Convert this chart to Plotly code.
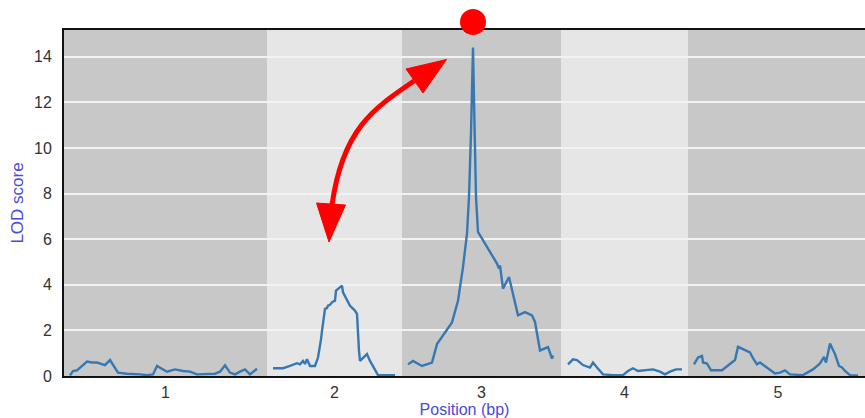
import plotly.graph_objects as go

# ---- data ----
chrom_names = ["1", "2", "3", "4", "5"]
chrom_lengths = [203, 135, 159, 127, 180]

chr1_pos = [6, 9, 13, 23, 28, 33, 41, 46, 54, 63, 76, 83, 89, 93, 103, 111, 119, 126, 133, 143, 151, 156, 161, 166, 171, 176, 181, 186, 193]
chr1_lod = [0.03, 0.22, 0.25, 0.63, 0.59, 0.59, 0.48, 0.70, 0.15, 0.10, 0.07, 0.04, 0.07, 0.44, 0.19, 0.29, 0.22, 0.19, 0.07, 0.07, 0.10, 0.19, 0.47, 0.15, 0.07, 0.19, 0.29, 0.07, 0.32]

chr2_pos = [6, 16, 23, 30, 33, 36, 38, 40, 43, 48, 51, 53, 54, 55, 56, 57, 58, 60, 61, 63, 65, 67, 68, 69, 71, 73, 75, 76, 78, 80, 82, 83, 86, 88, 90, 91, 92, 93, 96, 100, 103, 108, 111, 120, 128]
chr2_lod = [0.34, 0.34, 0.44, 0.56, 0.51, 0.66, 0.53, 0.73, 0.44, 0.44, 0.81, 1.25, 1.60, 1.98, 2.40, 2.72, 2.94, 2.98, 3.08, 3.12, 3.23, 3.28, 3.30, 3.74, 3.82, 3.89, 3.96, 3.67, 3.50, 3.30, 3.20, 3.08, 2.95, 2.86, 2.72, 1.69, 1.10, 0.66, 0.81, 0.96, 0.66, 0.29, 0.04, 0.04, 0.04]

chr3_pos = [6, 11, 20, 30, 35, 41, 50, 56, 61, 65, 67, 69, 71, 72, 74, 76, 85, 95, 97, 98, 101, 107, 116, 123, 130, 133, 138, 143, 146, 150, 151]
chr3_lod = [0.51, 0.66, 0.44, 0.59, 1.40, 1.76, 2.35, 3.30, 4.77, 6.24, 7.85, 10.65, 14.40, 12.11, 7.85, 6.32, 5.65, 4.93, 4.71, 4.85, 3.83, 4.34, 2.66, 2.80, 2.66, 2.37, 1.12, 1.20, 1.27, 0.76, 0.90]

chr4_pos = [7, 12, 16, 22, 29, 32, 36, 42, 52, 62, 67, 72, 77, 86, 92, 99, 104, 109, 115, 121]
chr4_lod = [0.51, 0.73, 0.70, 0.48, 0.37, 0.59, 0.37, 0.07, 0.04, 0.04, 0.22, 0.34, 0.22, 0.25, 0.29, 0.19, 0.07, 0.19, 0.29, 0.29]

chr5_pos = [6, 10, 14, 15, 19, 23, 34, 42, 47, 50, 62, 65, 69, 72, 82, 87, 92, 97, 102, 115, 125, 132, 136, 138, 142, 147, 151, 154, 157, 162, 170]
chr5_lod = [0.51, 0.81, 0.88, 0.59, 0.55, 0.25, 0.25, 0.51, 0.70, 1.28, 1.03, 0.78, 0.51, 0.59, 0.29, 0.11, 0.15, 0.25, 0.07, 0.04, 0.29, 0.55, 0.84, 0.59, 1.42, 0.96, 0.44, 0.37, 0.22, 0.04, 0.02]

y_ticks = [0, 2, 4, 6, 8, 10, 12, 14]

all_pos = [chr1_pos, chr2_pos, chr3_pos, chr4_pos, chr5_pos]
all_lod = [chr1_lod, chr2_lod, chr3_lod, chr4_lod, chr5_lod]

# ---- layout geometry ----
W, H = 865, 418
ML, MR, MT, MB = 64, 0, 30, 42
Y_MAX = 15.17
X_MAX = 801

LINE_COLOR = "#3679b2"
DARK = "#c8c8c8"
LIGHT = "#e6e6e6"

fig = go.Figure()

offsets = []
acc = 0
for L in chrom_lengths:
    offsets.append(acc)
    acc += L

shapes = []
for i, (off, L) in enumerate(zip(offsets, chrom_lengths)):
    shapes.append(dict(type="rect", xref="x", yref="paper", x0=off, x1=off + L, y0=0, y1=1,
                       fillcolor=DARK if i % 2 == 0 else LIGHT, line=dict(width=0), layer="below"))

peak_x, peak_y = None, -1
for off, pos, lod in zip(offsets, all_pos, all_lod):
    xs = [off + p for p in pos]
    fig.add_trace(go.Scatter(x=xs, y=lod, mode="lines",
                             line=dict(color=LINE_COLOR, width=2.4), showlegend=False,
                             hoverinfo="skip"))
    for x, v in zip(xs, lod):
        if v > peak_y:
            peak_x, peak_y = x, v

plot_h = H - MT - MB
plot_w = W - ML - MR
def dx(px):
    return (px - ML) * X_MAX / plot_w
def dy(py):
    return (H - MB - py) / plot_h * Y_MAX
def P(px, py):
    return f"{dx(px):.2f},{dy(py):.3f}"

# red dot above the highest peak (drawn in paper y so it sits above the frame)
r_px = 13
cy_paper = (H - MB - 22) / plot_h
shapes.append(dict(type="circle", xref="x", yref="paper",
                   x0=peak_x - r_px * X_MAX / plot_w, x1=peak_x + r_px * X_MAX / plot_w,
                   y0=cy_paper - r_px / plot_h, y1=cy_paper + r_px / plot_h,
                   fillcolor="#ff0000", line=dict(width=0), layer="above"))

# curved double-headed arrow
shaft = f"M {P(332, 205)} C {P(342.5, 130)} {P(372.5, 109)} {P(414, 81)}"
shapes.append(dict(type="path", xref="x", yref="y", path=shaft,
                   line=dict(color="#ff0000", width=5), layer="above"))
head_low = f"M {P(316.5, 203)} L {P(345.5, 205)} L {P(329, 242)} Z"
head_up = f"M {P(406, 69)} L {P(423, 93)} L {P(446.5, 59.5)} Z"
for hp in (head_low, head_up):
    shapes.append(dict(type="path", xref="x", yref="y", path=hp,
                       fillcolor="#ff0000", line=dict(color="#ff0000", width=1), layer="above"))

centers = [off + L / 2 for off, L in zip(offsets, chrom_lengths)]

fig.update_layout(
    width=W, height=H,
    margin=dict(l=ML, r=MR, t=MT, b=MB, pad=0, autoexpand=False),
    paper_bgcolor="white",
    plot_bgcolor=DARK,
    shapes=shapes,
    font=dict(family="Liberation Sans, Arial, sans-serif", size=16, color="#333333"),
    xaxis=dict(range=[0, X_MAX], tickvals=centers, ticktext=chrom_names,
               showgrid=False, zeroline=False, showline=True, mirror=True,
               linecolor="#111111", linewidth=2, ticks="", ticklabelstandoff=1,
               tickfont=dict(size=16, color="#333333"),
               title=dict(text="Position (bp)", standoff=2,
                          font=dict(size=16, color="#4a4adb"))),
    yaxis=dict(range=[0, Y_MAX], tickvals=y_ticks,
               showgrid=True, gridcolor="#f2f2f2", gridwidth=1.5,
               zeroline=False, showline=True, linecolor="#111111", linewidth=2,
               ticks="", ticklabelstandoff=7,
               tickfont=dict(size=16, color="#333333"),
               title=dict(text="LOD score", standoff=6,
                          font=dict(size=17, color="#4a4adb"))),
)

fig.write_html("out.html", config={"displayModeBar": False},
               post_script="document.body.style.margin='0';document.body.style.overflow='hidden';")
